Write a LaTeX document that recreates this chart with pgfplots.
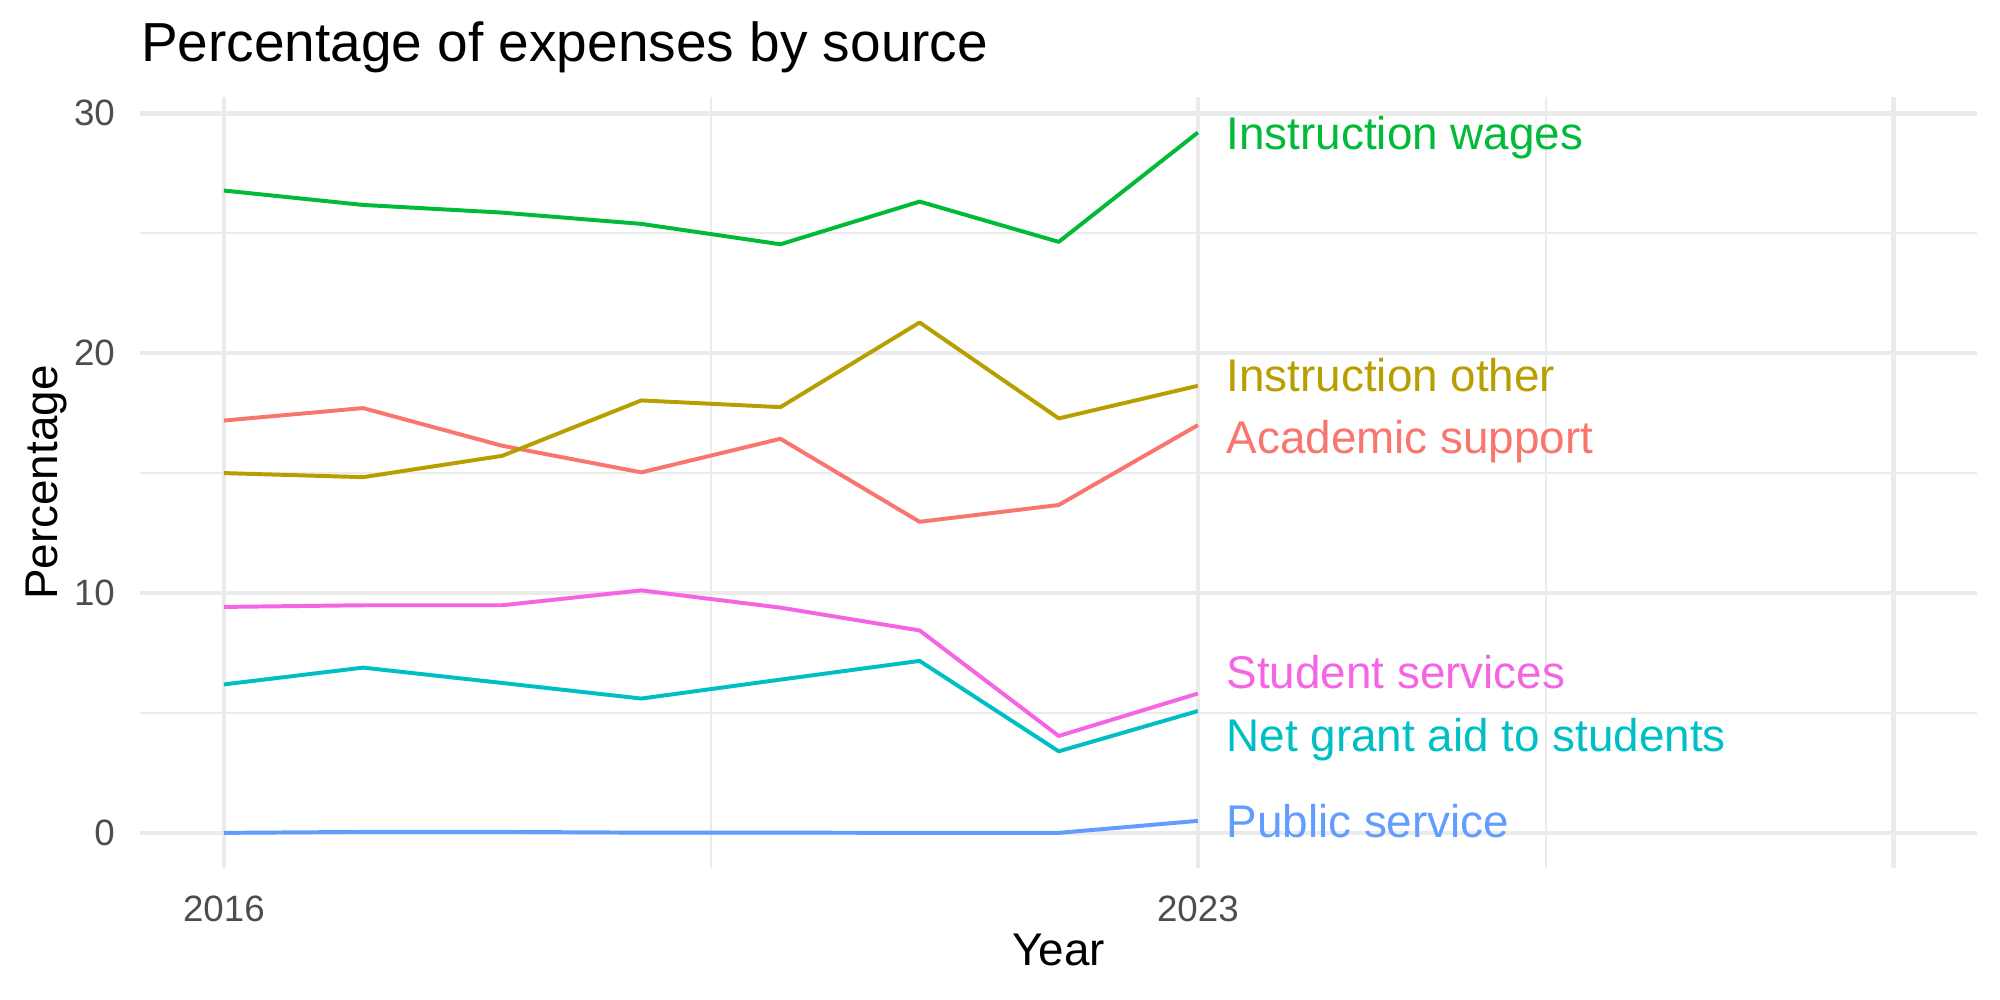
\documentclass[border=0pt]{standalone}
\usepackage{pgfplots}
\pgfplotsset{compat=1.18}
\usepackage{fontspec}
\setmainfont{Liberation Sans}
\definecolor{grid92}{HTML}{EBEBEB}
\definecolor{grey30}{HTML}{4D4D4D}
\definecolor{cAcad}{HTML}{F8766D}
\definecolor{cOther}{HTML}{B79F00}
\definecolor{cWages}{HTML}{00BA38}
\definecolor{cGrant}{HTML}{00BFC4}
\definecolor{cPublic}{HTML}{619CFF}
\definecolor{cStudent}{HTML}{F564E3}
\begin{document}
\begin{tikzpicture}
\path[use as bounding box] (-33.7pt,-31.7pt) rectangle (446.3pt,208.3pt);
\begin{axis}[
  scale only axis,
  width=440.8pt, height=184.9pt,
  xmin=2015.4, xmax=2028.6, ymin=-1.46, ymax=30.66,
  axis line style={draw=none},
  major tick length=0pt, minor tick length=0pt,
  xtick={2016,2023,2028}, xticklabels={2016,2023,{}},
  minor xtick={2019.5,2025.5},
  ytick={0,10,20,30}, minor ytick={5,15,25},
  grid=both,
  major grid style={draw=grid92, line width=1.07pt},
  minor grid style={draw=grid92, line width=0.53pt},
  /pgf/number format/assume math mode=true,
  tick label style={font=\fontsize{8.8}{10}\selectfont, text=grey30},
  xticklabel style={yshift=-3.1pt},
  yticklabel style={xshift=-2.6pt},
  clip=false,
  every axis plot/.append style={line width=0.95pt, line join=round},
]
\addplot[cAcad, no markers] coordinates {(2016,17.19) (2017,17.71) (2018,16.14) (2019,15.03) (2020,16.43) (2021,12.97) (2022,13.67) (2023,17.00)};
\addplot[cOther, no markers] coordinates {(2016,15.00) (2017,14.83) (2018,15.72) (2019,18.03) (2020,17.75) (2021,21.28) (2022,17.28) (2023,18.64)};
\addplot[cWages, no markers] coordinates {(2016,26.78) (2017,26.18) (2018,25.86) (2019,25.39) (2020,24.54) (2021,26.32) (2022,24.64) (2023,29.20)};
\addplot[cGrant, no markers] coordinates {(2016,6.19) (2017,6.89) (2018,6.25) (2019,5.60) (2020,6.39) (2021,7.17) (2022,3.40) (2023,5.08)};
\addplot[cPublic, no markers] coordinates {(2016,0.00) (2017,0.04) (2018,0.04) (2019,0.01) (2020,0.01) (2021,0.00) (2022,0.00) (2023,0.50)};
\addplot[cStudent, no markers] coordinates {(2016,9.42) (2017,9.49) (2018,9.49) (2019,10.11) (2020,9.39) (2021,8.44) (2022,4.04) (2023,5.81)};

\begin{scope}[every node/.style={anchor=base west, inner sep=0pt, font=\fontsize{11}{13}\selectfont}]
\node[text=cWages] at (axis cs:2023.20,28.51) {Instruction wages};
\node[text=cOther] at (axis cs:2023.20,18.40) {Instruction other};
\node[text=cAcad] at (axis cs:2023.20,15.80) {Academic support};
\node[text=cStudent] at (axis cs:2023.20,6.01) {Student services};
\node[text=cGrant] at (axis cs:2023.20,3.40) {Net grant aid to students};
\node[text=cPublic] at (axis cs:2023.20,-0.21) {Public service};
\end{scope}

\node[anchor=base west, inner sep=0pt, font=\fontsize{13.2}{15}\selectfont, yshift=8.75pt] at (rel axis cs:0,1) {Percentage of expenses by source};
\node[anchor=base, inner sep=0pt, font=\fontsize{11}{13}\selectfont, yshift=-23.4pt] at (rel axis cs:0.5,0) {Year};
\node[xshift=-19.9pt, anchor=base, rotate=90, inner sep=0pt, font=\fontsize{11}{13}\selectfont] at (rel axis cs:0,0.5) {Percentage};
\end{axis}
\end{tikzpicture}
\end{document}
